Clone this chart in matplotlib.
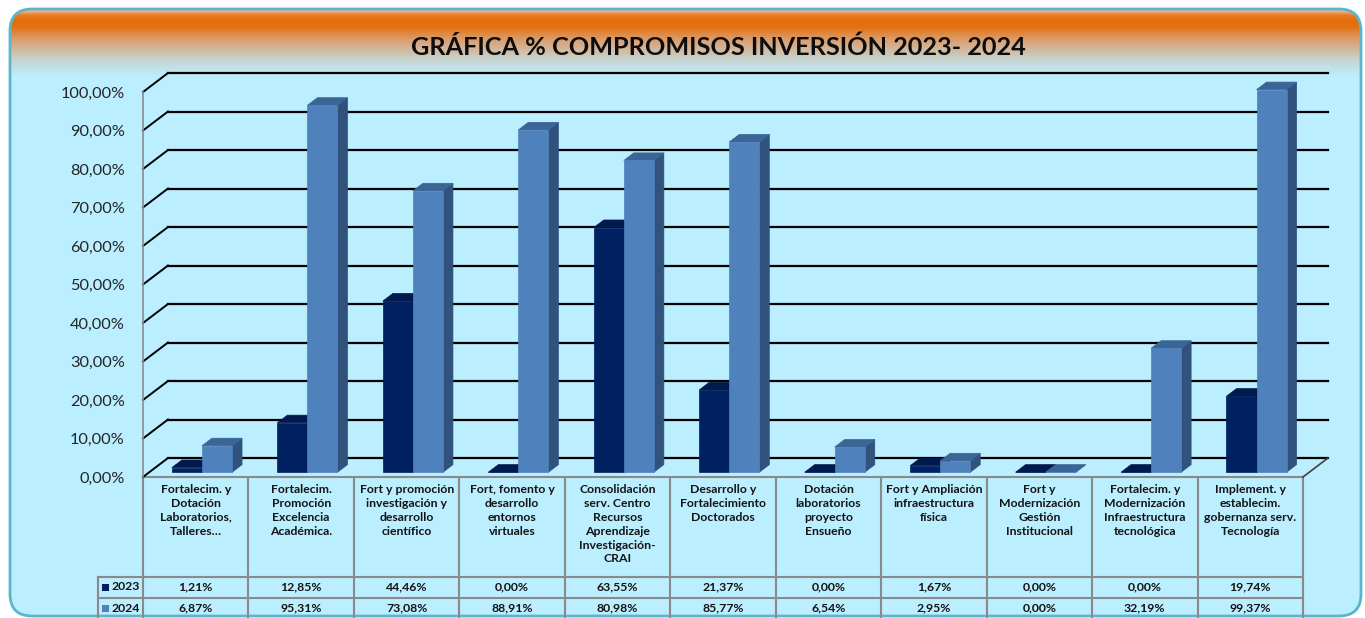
import numpy as np
import matplotlib
matplotlib.use("Agg")
import matplotlib.pyplot as plt
from matplotlib.patches import FancyBboxPatch, Rectangle, Polygon
from matplotlib.colors import LinearSegmentedColormap

plt.rcParams['font.family'] = ['Lato', 'DejaVu Sans']

# ---- data ----
title = "GRÁFICA % COMPROMISOS INVERSIÓN 2023- 2024"
categories = [
    "Fortalecim. y\nDotación\nLaboratorios,\nTalleres…",
    "Fortalecim.\nPromoción\nExcelencia\nAcadémica.",
    "Fort y promoción\ninvestigación y\ndesarrollo\ncientífico",
    "Fort, fomento y\ndesarrollo\nentornos\nvirtuales",
    "Consolidación\nserv. Centro\nRecursos\nAprendizaje\nInvestigación-\nCRAI",
    "Desarrollo y\nFortalecimiento\nDoctorados",
    "Dotación\nlaboratorios\nproyecto\nEnsueño",
    "Fort y Ampliación\ninfraestructura\nfísica",
    "Fort y\nModernización\nGestión\nInstitucional",
    "Fortalecim. y\nModernización\nInfraestructura\ntecnológica",
    "Implement. y\nestablecim.\ngobernanza serv.\nTecnología",
]
series_names = ["2023", "2024"]
v2023 = [1.21, 12.85, 44.46, 0.00, 63.55, 21.37, 0.00, 1.67, 0.00, 0.00, 19.74]
v2024 = [6.87, 95.31, 73.08, 88.91, 80.98, 85.77, 6.54, 2.95, 0.00, 32.19, 99.37]
yticks = np.arange(0, 101, 10)

# ---- styles ----
W, H = 1365, 618
bg_blue = "#BBEEFE"
front_cols = ["#00205F", "#4F81BD"]
side_cols = ["#001540", "#30527C"]
top_cols = ["#001A4E", "#3B6596"]
grid_grey = "#8A8A8A"
txt_col = "#141414"

fig = plt.figure(figsize=(W / 100, H / 100), dpi=100)
fig.patch.set_facecolor("white")

# background axes in pixel coordinates
bg = fig.add_axes([0, 0, 1, 1], zorder=0)
bg.axis("off")

fx0, fy0, fw, fh = 10, 9, 1351, 607
frame = FancyBboxPatch((fx0, fy0), fw, fh, boxstyle="round,pad=0,rounding_size=22",
                       facecolor=bg_blue, edgecolor="none", zorder=1)
bg.add_patch(frame)
stops = [(0.0, "#F4CDB0"), (0.09, "#E87A22"), (0.18, "#E36C0A"), (0.26, "#E2720F"),
         (0.46, "#DCA072"), (0.72, "#C9CFC8"), (0.87, "#C0E2EA"), (1.0, bg_blue)]
cmap = LinearSegmentedColormap.from_list("band", stops)
grad = np.linspace(0, 1, 300).reshape(-1, 1)
im = bg.imshow(grad, cmap=cmap, aspect="auto", extent=[fx0, fx0 + fw, 77, fy0],
               interpolation="bilinear", zorder=2)
im.set_clip_path(frame)
bg.add_patch(FancyBboxPatch((fx0, fy0), fw, fh, boxstyle="round,pad=0,rounding_size=22",
                            facecolor="none", edgecolor="#5CB6CB", linewidth=2, zorder=3))
bg.set_xlim(0, W)
bg.set_ylim(H, 0)
bg.text(718, 47, title, ha="center", va="center", fontsize=18.2,
        fontweight="bold", color="#0D0D0D", zorder=4)

# main axes = front plane of the 3D chart
x_left, x_right, y_top, y_bot = 143, 1303, 92, 477
ax = fig.add_axes([x_left / W, (H - y_bot) / H, (x_right - x_left) / W, (y_bot - y_top) / H],
                  zorder=1)
ax.patch.set_alpha(0)
n = len(categories)
ax.set_xlim(0, n)
ax.set_ylim(0, 100)
for s in ["top", "right", "bottom"]:
    ax.spines[s].set_visible(False)
ax.spines["left"].set_color("#8C8C8C")
ax.spines["left"].set_linewidth(1.2)
ax.set_xticks([])
ax.set_yticks(yticks)
ax.set_yticklabels([f"{t:.2f}%".replace(".", ",") for t in yticks], fontsize=11.8,
                   color="#262626")
ax.tick_params(axis="y", length=0, pad=13)

ppx = (x_right - x_left) / n
ppy = (y_bot - y_top) / 100
DX, DY = 25 / ppx, 19 / ppy

# back wall gridlines with diagonals
for t in yticks:
    ax.plot([DX, n + DX], [t + DY, t + DY], color="black", lw=1.6, clip_on=False, zorder=1)
    ax.plot([0, DX], [t, t + DY], color="black", lw=1.4, clip_on=False, zorder=1)
ax.plot([n, n + DX], [0, DY], color="#404040", lw=1.2, clip_on=False, zorder=1)

# 3D bars
w = 0.285
fx, fy = 0.25 * DX, 0.25 * DY
bx, by = 0.65 * DX, 0.65 * DY
vals = [v2023, v2024]
for i in range(n):
    for s in range(2):
        h = vals[s][i]
        x0 = i + 0.5 + (s - 1) * w
        x1 = x0 + w
        z = 3 + i * 3 + s
        ax.add_patch(Polygon([(x1 + fx, fy), (x1 + bx, by), (x1 + bx, h + by), (x1 + fx, h + fy)],
                             closed=True, facecolor=side_cols[s], edgecolor=side_cols[s],
                             lw=0.5, clip_on=False, zorder=z))
        ax.add_patch(Polygon([(x0 + fx, h + fy), (x1 + fx, h + fy), (x1 + bx, h + by), (x0 + bx, h + by)],
                             closed=True, facecolor=top_cols[s], edgecolor=top_cols[s],
                             lw=0.5, clip_on=False, zorder=z))
        ax.add_patch(Rectangle((x0 + fx, fy), w, h, facecolor=front_cols[s],
                               edgecolor=front_cols[s], lw=0.5, clip_on=False, zorder=z))

# data table below
row1, row2, row3 = 577, 598, 619
leg_left = 98
col_x = [x_left + k * ppx for k in range(n + 1)]
lk = dict(color=grid_grey, lw=1.5, zorder=5)
bg.plot([x_left, x_right], [y_bot, y_bot], **lk)
for k, cx in enumerate(col_x):
    bg.plot([cx, cx], [y_bot, row3], **lk)
bg.plot([leg_left, leg_left], [row1, row3], **lk)
for ry in [row1, row2]:
    bg.plot([leg_left, x_right], [ry, ry], **lk)

for i, cat in enumerate(categories):
    cx = x_left + (i + 0.5) * ppx
    bg.text(cx, 484, cat, ha="center", va="top", fontsize=8.8, fontweight="bold",
            color=txt_col, linespacing=1.32, zorder=6)
    for s, ry in enumerate([row1, row2]):
        bg.text(cx, ry + 10, f"{vals[s][i]:.2f}%".replace(".", ","), ha="center",
                va="center", fontsize=8.8, fontweight="bold", color=txt_col, zorder=6)

for s, ry in enumerate([row1, row2]):
    bg.add_patch(Rectangle((102, ry + 6.5), 7, 7, facecolor=front_cols[s], edgecolor="none",
                           zorder=6))
    bg.text(112, ry + 10, series_names[s], ha="left", va="center", fontsize=8.8,
            fontweight="bold", color=txt_col, zorder=6)

fig.savefig("out.png", dpi=100, facecolor="white")
